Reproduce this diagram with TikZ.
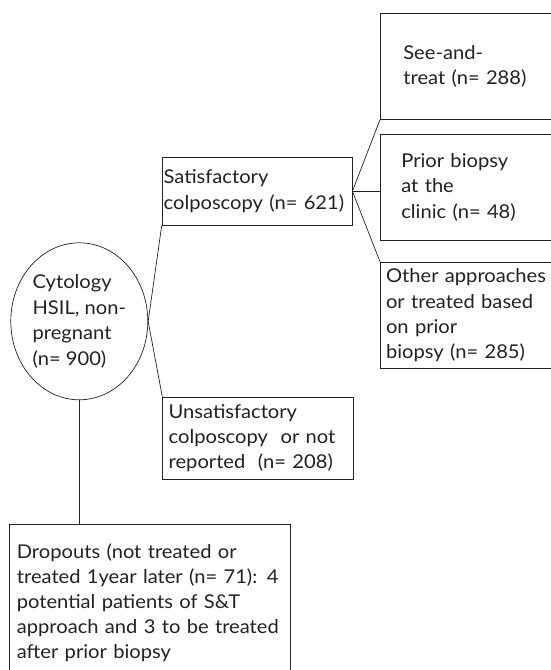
\documentclass[tikz,border=0pt]{standalone}
\usepackage{fontspec}
\setmainfont{Lato}[FakeStretch=1.06]
\usepackage{tikz}
\usetikzlibrary{shapes.geometric}
\definecolor{Ink}{HTML}{222222}
\tikzset{
  box/.style={draw=Ink,rectangle,align=left,text=Ink,inner ysep=0pt,
              anchor=north west,font=\fontsize{19}{25.2}\selectfont},
  oval/.style={draw=Ink,ellipse,align=left,text=Ink,inner sep=0pt,
              font=\fontsize{19}{25.7}\selectfont},
  link/.style={draw=Ink,line width=0.7pt}
}

\begin{document}
\begin{tikzpicture}[x=1pt,y=-1pt,line width=0.7pt]
  \useasboundingbox (0,0) rectangle (551,670);
  \clip (0,0) rectangle (551,670);
  % starting group
  \node[oval,minimum width=137pt,minimum height=157pt] (cyto) at (79.3,321.3)
       {Cytology\\HSIL, non-\\pregnant\\(n= 900)};
  % colposcopy outcome
  \node[box,minimum width=190pt,minimum height=68.3pt,inner xsep=1.6pt,text width=186.8pt]
       (satis) at (161.7,156.7) {Satisfactory\\colposcopy (n= 621)};
  \node[box,minimum width=190.4pt,minimum height=82.6pt,inner xsep=6pt,text width=178.4pt]
       (unsat) at (162.3,396.7) {Unsatisfactory\\colposcopy\ \ or not\\reported\ \ (n= 208)};
  % management of satisfactory cases
  \node[box,minimum width=190pt,minimum height=106pt,inner xsep=23pt,text width=144pt]
       (seetreat) at (380,13) {See-and-\\treat (n= 288)};
  \node[box,minimum width=190pt,minimum height=106pt,inner xsep=21pt,text width=148pt]
       (prior) at (380,134) {Prior biopsy\\at the\\clinic (n= 48)};
  \node[box,minimum width=190pt,minimum height=106.6pt,inner xsep=5.7pt,text width=178.6pt]
       (other) at (380,261.7) {Other approaches\\or treated based\\on prior\\biopsy (n= 285)};
  % lost to follow-up
  \node[box,minimum width=281pt,minimum height=157pt,inner xsep=7.5pt,text width=266pt]
       (drop) at (9,524) {Dropouts (not treated or\\treated 1year later (n= 71): 4\\potential patients of S\&T\\approach and 3 to be treated\\after prior biopsy};

  \draw[link] (cyto.east) -- (satis.south west);
  \draw[link] (cyto.east) -- (unsat.north west);
  \draw[link] (cyto.south) -- (cyto.south |- drop.north);
  \draw[link] (satis.east) -- (seetreat.south west);
  \draw[link] (satis.east) -- (satis.east -| prior.west);
  \draw[link] (satis.east) -- (other.north west);
\end{tikzpicture}
\end{document}
